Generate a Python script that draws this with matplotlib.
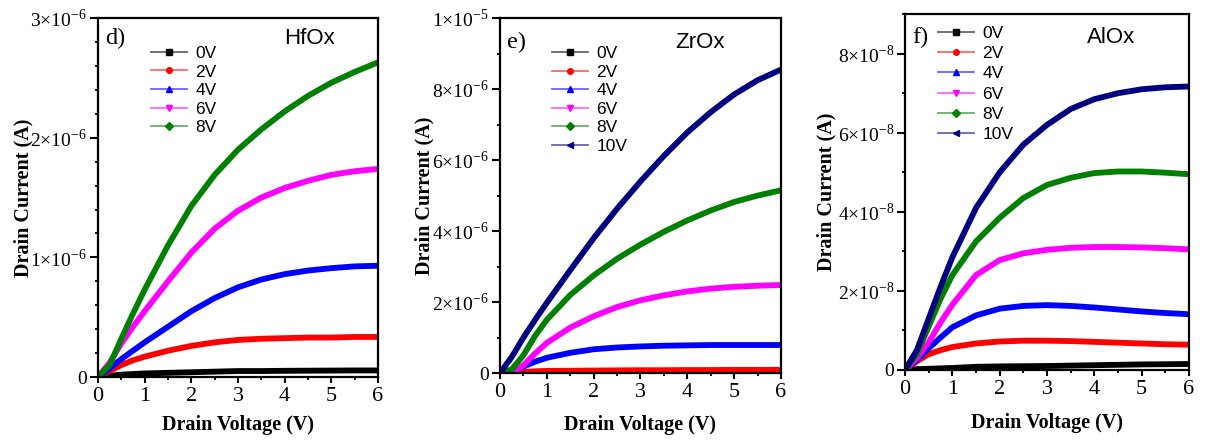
import matplotlib
matplotlib.use("Agg")
import matplotlib.pyplot as plt
import numpy as np
from matplotlib.lines import Line2D
from matplotlib.ticker import MultipleLocator, FuncFormatter

plt.rcParams['font.family'] = ['Liberation Serif', 'DejaVu Serif']
plt.rcParams['mathtext.fontset'] = 'custom'
plt.rcParams['mathtext.rm'] = 'Liberation Serif'

# drain voltage grid (V)
vd = [0, 0.25, 0.5, 0.75, 1, 1.5, 2, 2.5, 3, 3.5, 4, 4.5, 5, 5.5, 6]

# HfOx, drain current in 1e-6 A
hf_0 = [0, 0.01, 0.02, 0.025, 0.03, 0.035, 0.04, 0.045, 0.05, 0.05, 0.052, 0.053, 0.054, 0.055, 0.055]
hf_2 = [0, 0.05, 0.10, 0.14, 0.17, 0.22, 0.26, 0.29, 0.31, 0.32, 0.325, 0.33, 0.33, 0.335, 0.335]
hf_4 = [0, 0.07, 0.15, 0.22, 0.29, 0.42, 0.55, 0.66, 0.75, 0.815, 0.86, 0.89, 0.91, 0.925, 0.93]
hf_6 = [0, 0.12, 0.28, 0.42, 0.55, 0.80, 1.04, 1.24, 1.39, 1.50, 1.58, 1.64, 1.69, 1.72, 1.74]
hf_8 = [0, 0.10, 0.32, 0.53, 0.73, 1.10, 1.43, 1.69, 1.90, 2.07, 2.22, 2.35, 2.46, 2.55, 2.63]

# ZrOx, drain current in 1e-6 A
zr_0 = [0, 0, 0.005, 0.01, 0.01, 0.015, 0.02, 0.02, 0.02, 0.025, 0.025, 0.025, 0.03, 0.03, 0.03]
zr_2 = [0, 0, 0.03, 0.05, 0.06, 0.065, 0.07, 0.075, 0.08, 0.08, 0.085, 0.085, 0.09, 0.09, 0.09]
zr_4 = [0, 0.04, 0.18, 0.32, 0.43, 0.57, 0.67, 0.72, 0.75, 0.77, 0.78, 0.79, 0.79, 0.79, 0.79]
zr_6 = [0, 0.0, 0.22, 0.55, 0.85, 1.28, 1.60, 1.86, 2.05, 2.19, 2.30, 2.38, 2.43, 2.46, 2.48]
zr_8 = [0, 0.1, 0.5, 1.05, 1.5, 2.2, 2.75, 3.22, 3.62, 3.98, 4.3, 4.58, 4.82, 5.0, 5.15]
zr_10 = [0, 0.45, 1.0, 1.5, 1.98, 2.9, 3.8, 4.63, 5.4, 6.12, 6.78, 7.35, 7.85, 8.25, 8.55]

# AlOx, drain current in 1e-8 A
al_0 = [0, 0.02, 0.03, 0.04, 0.05, 0.08, 0.09, 0.095, 0.1, 0.11, 0.12, 0.13, 0.14, 0.145, 0.15]
al_2 = [0, 0.22, 0.4, 0.5, 0.58, 0.67, 0.72, 0.74, 0.74, 0.73, 0.71, 0.69, 0.67, 0.65, 0.64]
al_4 = [0, 0.25, 0.55, 0.82, 1.08, 1.38, 1.55, 1.62, 1.64, 1.62, 1.58, 1.53, 1.48, 1.44, 1.41]
al_6 = [0, 0.3, 0.7, 1.2, 1.65, 2.4, 2.78, 2.95, 3.04, 3.09, 3.11, 3.11, 3.1, 3.08, 3.05]
al_8 = [0, 0.4, 1.1, 1.8, 2.4, 3.25, 3.85, 4.35, 4.68, 4.86, 4.98, 5.02, 5.02, 4.99, 4.95]
al_10 = [0, 0.5, 1.3, 2.1, 2.85, 4.1, 5.0, 5.7, 6.2, 6.6, 6.85, 7.0, 7.1, 7.15, 7.17]

gate_labels = ['0V', '2V', '4V', '6V', '8V', '10V']
colors = ['#000000', '#ff0000', '#0000ff', '#ff00ff', '#008000', '#000080']
markers = ['s', 'o', '^', 'v', 'D', '<']

panels = [
    dict(data=[hf_0, hf_2, hf_4, hf_6, hf_8], scale=1e-6, ymax=3e-6, major=1e-6, minor=0.2e-6,
         rect=[0.0811, 0.147, 0.2318, 0.812], tag='d)', name='HfOx', name_xy=(0.754, 0.944),
         leg_xy=(0.189, 0.923), ylab_x=-0.23, xlab_y=-0.105, lspace=0.2),
    dict(data=[zr_0, zr_2, zr_4, zr_6, zr_8, zr_10], scale=1e-6, ymax=1e-5, major=2e-6, minor=1e-6,
         rect=[0.4139, 0.156, 0.2326, 0.803], tag='e)', name='ZrOx', name_xy=(0.712, 0.932),
         leg_xy=(0.185, 0.922), ylab_x=-0.234, xlab_y=-0.117, lspace=0.2),
    dict(data=[al_0, al_2, al_4, al_6, al_8, al_10], scale=1e-8, ymax=9e-8, major=2e-8, minor=1e-8,
         rect=[0.7492, 0.163, 0.2351, 0.805], tag='f)', name='AlOx', name_xy=(0.726, 0.935),
         leg_xy=(0.116, 0.968), ylab_x=-0.24, xlab_y=-0.12, lspace=0.3),
]


def sci_fmt(v, pos):
    if abs(v) < 1e-20:
        return '0'
    if v < 0:
        return ''
    e = int(np.floor(np.log10(v) + 1e-9))
    m = int(round(v / 10.0 ** e))
    return '%d\u00d710$^{%d}$' % (m, e)


fig = plt.figure(figsize=(12.08, 4.42), dpi=100)

for p in panels:
    ax = fig.add_axes(p['rect'])
    for i, series in enumerate(p['data']):
        ax.plot(vd, np.array(series) * p['scale'], color=colors[i], lw=4.2,
                solid_capstyle='butt', solid_joinstyle='round')

    ax.set_xlim(0, 6)
    ax.set_ylim(0, p['ymax'])
    ax.xaxis.set_major_locator(MultipleLocator(1))
    ax.xaxis.set_minor_locator(MultipleLocator(0.5))
    ax.yaxis.set_major_locator(MultipleLocator(p['major']))
    ax.yaxis.set_minor_locator(MultipleLocator(p['minor']))
    ax.yaxis.set_major_formatter(FuncFormatter(sci_fmt))

    for s in ax.spines.values():
        s.set_linewidth(1.6)
    ax.tick_params(axis='x', which='major', direction='out', length=4, width=1.5, labelsize=16, pad=3)
    ax.tick_params(axis='x', which='minor', direction='out', length=2.5, width=1.3)
    ax.tick_params(axis='y', which='major', direction='out', length=6, width=1.5, labelsize=14, pad=2)
    ax.tick_params(axis='y', which='minor', direction='out', length=2.5, width=1.3)

    ax.set_xlabel('Drain Voltage (V)', fontsize=14.5, fontweight='bold')
    ax.set_ylabel('Drain Current (A)', fontsize=14.5, fontweight='bold')
    ax.xaxis.set_label_coords(0.5, p['xlab_y'])
    ax.yaxis.set_label_coords(p['ylab_x'], 0.5)

    ax.text(0.025, p['name_xy'][1], p['tag'], transform=ax.transAxes, fontsize=17.5,
            ha='left', va='center')
    ax.text(p['name_xy'][0], p['name_xy'][1], p['name'], transform=ax.transAxes,
            fontsize=16, family=['Liberation Sans', 'DejaVu Sans'], ha='center', va='center')

    n = len(p['data'])
    handles = []
    for i in range(n):
        r, g, b, _ = matplotlib.colors.to_rgba(colors[i])
        handles.append(Line2D([], [], color=(r, g, b, 0.6), lw=1.3, marker=markers[i], ms=4,
                              markerfacecolor=colors[i], markeredgecolor=colors[i]))
    ax.legend(handles, gate_labels[:n], loc='upper left', bbox_to_anchor=p['leg_xy'],
              frameon=False, borderpad=0, borderaxespad=0, handlelength=2.1,
              handletextpad=0.45, labelspacing=p['lspace'],
              prop={'family': ['Liberation Sans', 'DejaVu Sans'], 'size': 12.5})

fig.savefig('out.png', dpi=100)
